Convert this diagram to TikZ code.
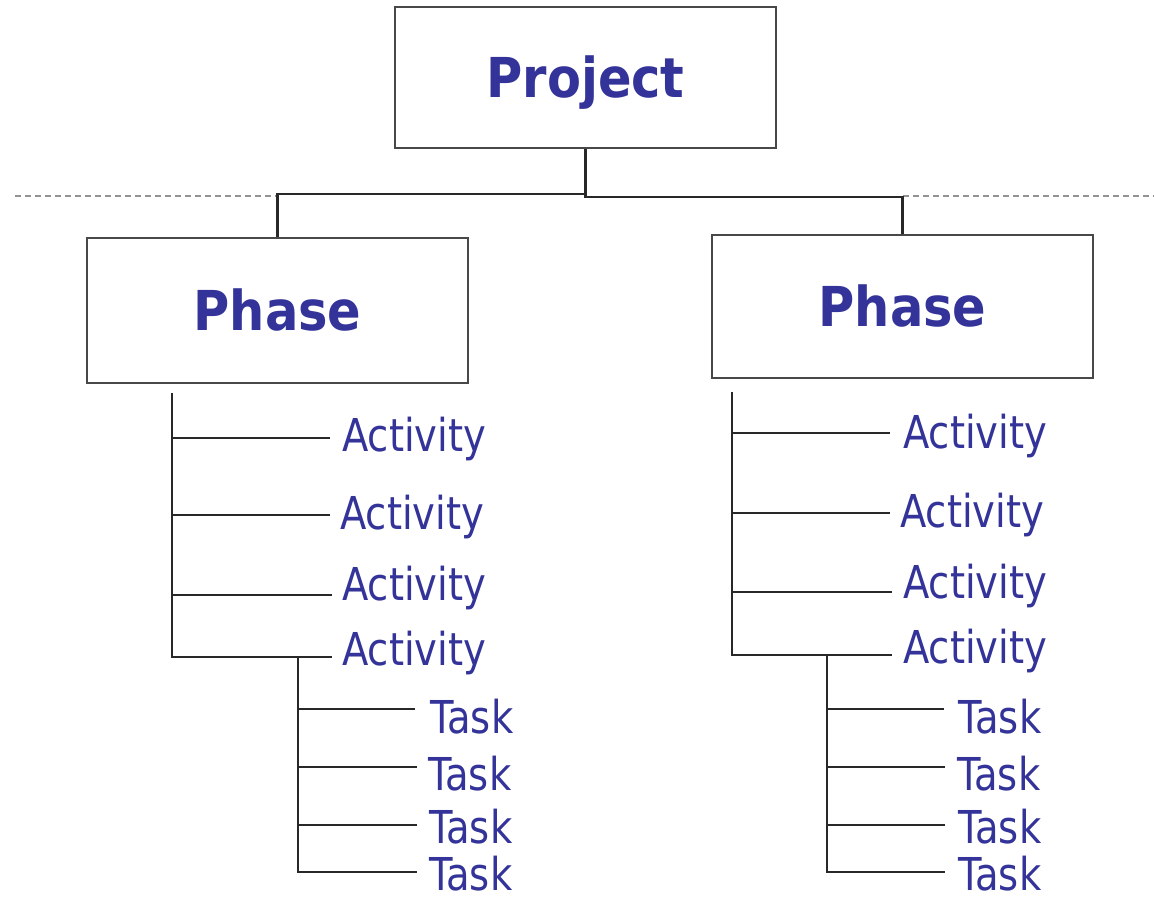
\documentclass[tikz,border=0pt]{standalone}
\usepackage{fontspec}
\newfontfamily\regf{DejaVu Sans}[FakeStretch=0.85]
\newfontfamily\boldf{DejaVu Sans}[FakeStretch=0.9]
\definecolor{txtblue}{RGB}{51,51,153}
\definecolor{linegray}{RGB}{40,40,40}
\tikzset{
  box/.style={draw=linegray!85, line width=2.2pt, fill=white, inner sep=0pt,
    text=txtblue, font=\boldf\bfseries\fontsize{55}{60}\selectfont,
    text height=40pt, text depth=0pt},
  lab/.style={text=txtblue, inner sep=0pt, anchor=base west,
    font=\regf\fontsize{45.3}{50}\selectfont},
  conn/.style={draw=linegray, line width=2.2pt},
  sep/.style={draw=gray!85, line width=2pt, dash pattern=on 6pt off 4pt}
}
\begin{document}
\begin{tikzpicture}[x=1pt,y=-1pt]
\useasboundingbox (0,0) rectangle (1154,900);
% boxes
\node[box, minimum width=381pt, minimum height=141pt] (project) at (585.5,77.5) {Project};
\node[box, minimum width=381pt, minimum height=145pt] (phaseL) at (277.5,310.5) {Phase};
\node[box, minimum width=381pt, minimum height=143pt] (phaseR) at (902.5,306.5) {Phase};
% dashed separator
\coordinate (dL0) at (15,196);
\coordinate (dR1) at (1154,196);
\draw[sep] (dL0) -- (dL0 -| phaseL.north);
\draw[sep] (dR1 -| phaseR.north) -- (dR1);
% top connectors
\draw[conn] (project.south) -- ++(0,45) -| (phaseL.north);
\draw[conn] (project.south) -- ++(0,48) -| (phaseR.north);
% left activities
\node[lab] (aL1) at (342,451) {Activity};
\node[lab] (aL2) at (340,529) {Activity};
\node[lab] (aL3) at (342,600) {Activity};
\node[lab] (aL4) at (342,665) {Activity};
\coordinate (tL0) at (172,393);
\coordinate (bL1) at (330,438);
\coordinate (bL2) at (330,515);
\coordinate (bL3) at (332,595);
\coordinate (bL4) at (332,657);
\draw[conn] (tL0) |- (bL4);
\draw[conn] (bL1 -| tL0) -- (bL1);
\draw[conn] (bL2 -| tL0) -- (bL2);
\draw[conn] (bL3 -| tL0) -- (bL3);
% left tasks
\node[lab] (kL1) at (430,733) {Task};
\node[lab] (kL2) at (428,790) {Task};
\node[lab] (kL3) at (429,843) {Task};
\node[lab] (kL4) at (429,890) {Task};
\coordinate (sL0) at (298,657);
\coordinate (cL1) at (415,709);
\coordinate (cL2) at (417,767);
\coordinate (cL3) at (417,825);
\coordinate (cL4) at (417,872);
\draw[conn] (sL0) |- (cL4);
\draw[conn] (cL1 -| sL0) -- (cL1);
\draw[conn] (cL2 -| sL0) -- (cL2);
\draw[conn] (cL3 -| sL0) -- (cL3);
% right activities
\node[lab] (aR1) at (903,448) {Activity};
\node[lab] (aR2) at (900,527) {Activity};
\node[lab] (aR3) at (903,598) {Activity};
\node[lab] (aR4) at (903,663) {Activity};
\coordinate (tR0) at (732,392);
\coordinate (bR1) at (890,433);
\coordinate (bR2) at (890,513);
\coordinate (bR3) at (892,592);
\coordinate (bR4) at (892,655);
\draw[conn] (tR0) |- (bR4);
\draw[conn] (bR1 -| tR0) -- (bR1);
\draw[conn] (bR2 -| tR0) -- (bR2);
\draw[conn] (bR3 -| tR0) -- (bR3);
% right tasks
\node[lab] (kR1) at (958,733) {Task};
\node[lab] (kR2) at (957,790) {Task};
\node[lab] (kR3) at (958,843) {Task};
\node[lab] (kR4) at (958,890) {Task};
\coordinate (sR0) at (827,655);
\coordinate (cR1) at (944,709);
\coordinate (cR2) at (945,767);
\coordinate (cR3) at (945,825);
\coordinate (cR4) at (945,872);
\draw[conn] (sR0) |- (cR4);
\draw[conn] (cR1 -| sR0) -- (cR1);
\draw[conn] (cR2 -| sR0) -- (cR2);
\draw[conn] (cR3 -| sR0) -- (cR3);
\end{tikzpicture}
\end{document}
